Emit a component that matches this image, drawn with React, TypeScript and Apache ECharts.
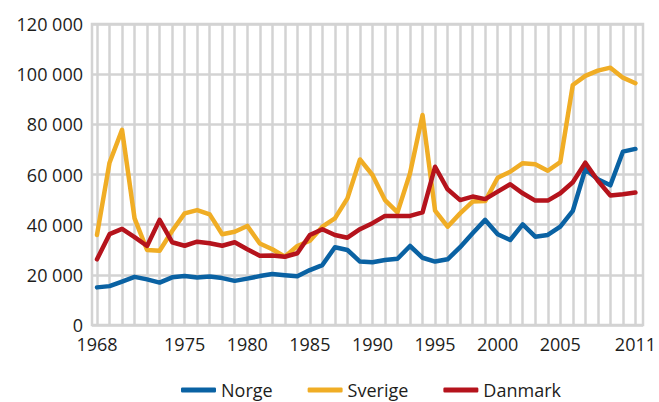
import React, { useEffect, useRef } from "react";
import * as echarts from "echarts";

const years = [
  "1968", "1969", "1970", "1971", "1972", "1973", "1974", "1975", "1976", "1977", "1978",
  "1979", "1980", "1981", "1982", "1983", "1984", "1985", "1986", "1987", "1988", "1989",
  "1990", "1991", "1992", "1993", "1994", "1995", "1996", "1997", "1998", "1999", "2000",
  "2001", "2002", "2003", "2004", "2005", "2006", "2007", "2008", "2009", "2010", "2011",
];

const labeledYears = ["1968", "1975", "1980", "1985", "1990", "1995", "2000", "2005", "2011"];

const norge = [
  15000, 15500, 17300, 19200, 18200, 16900, 19000, 19500, 18900, 19300, 18700, 17600, 18500, 19500, 20300,
  19800, 19400, 21900, 23900, 31000, 29900, 25300, 25000, 25900, 26400, 31500, 26800, 25300, 26200,
  31000, 36600, 41900, 36200, 33900, 40100, 35200, 35900, 39200, 45500, 62100, 58100, 55700, 69100, 70200,
];

const sverige = [
  35900, 64700, 77800, 42500, 29900, 29600, 37500, 44500, 45800, 44100, 36200, 37200, 39500, 32500, 30200,
  27200, 31500, 33600, 39200, 42500, 50500, 66000, 59800, 49800, 44900, 60500, 83700, 45600, 39200,
  44500, 49200, 49400, 58700, 61100, 64500, 64100, 61500, 64900, 95700, 99300, 101400, 102600, 98600, 96400,
];

const danmark = [
  26200, 36200, 38300, 35000, 31500, 41900, 33000, 31600, 33200, 32600, 31600, 33000, 30200, 27600, 27700,
  27200, 28600, 35900, 38200, 35900, 34800, 38200, 40600, 43500, 43500, 43500, 44900, 63100, 54100,
  49800, 51200, 50200, 53200, 56100, 52500, 49600, 49600, 52500, 56900, 64700, 57500, 51600, 52100, 52800,
];

const yTicks = { min: 0, max: 120000, interval: 20000 };

const GRID_COLOR = "#d3d3d3";
const TEXT_COLOR = "#1d1d1b";
const FONT = "'Open Sans', sans-serif";

export default function App() {
  const ref = useRef<HTMLDivElement>(null);

  useEffect(() => {
    document.body.style.margin = "0";
    if (!ref.current) return;
    const chart = echarts.init(ref.current, null, { renderer: "svg" });
    const fmt = (v: number) =>
      String(v).replace(/\B(?=(\d{3})+(?!\d))/g, " ");
    const mkLine = (name: string, data: number[], color: string) => ({
      name,
      type: "line",
      data,
      xAxisIndex: 1,
      yAxisIndex: 1,
      showSymbol: false,
      symbol: "none",
      color,
      lineStyle: { color, width: 4.5, join: "round", cap: "round" },
      itemStyle: { color },
    });
    chart.setOption({
      animation: false,
      textStyle: { fontFamily: FONT },
      grid: [
        {
          left: 92,
          right: 16,
          top: 24,
          bottom: 77,
          show: true,
          borderColor: GRID_COLOR,
          borderWidth: 2.5,
          backgroundColor: "transparent",
        },
        { left: 97, right: 20, top: 24, bottom: 77 },
      ],
      xAxis: [
        { type: "value", gridIndex: 0, min: 0, max: 1, show: false },
        {
          type: "category",
          gridIndex: 1,
          data: years,
          boundaryGap: false,
          axisLine: { show: false },
          axisTick: { show: false },
          splitLine: {
            show: true,
            interval: 0,
            lineStyle: { color: GRID_COLOR, width: 2.5 },
          },
          axisLabel: {
            interval: (_i: number, v: string) => labeledYears.includes(v),
            color: TEXT_COLOR,
            fontSize: 18,
            fontFamily: FONT,
            margin: 10,
          },
        },
      ],
      yAxis: [
        {
          type: "value",
          gridIndex: 0,
          min: yTicks.min,
          max: yTicks.max,
          interval: yTicks.interval,
          axisLine: { show: false },
          axisTick: { show: false },
          splitLine: { show: true, lineStyle: { color: GRID_COLOR, width: 2.5 } },
          axisLabel: {
            color: TEXT_COLOR,
            fontSize: 18,
            fontFamily: FONT,
            margin: 9,
            formatter: fmt,
          },
        },
        {
          type: "value",
          gridIndex: 1,
          min: yTicks.min,
          max: yTicks.max,
          show: false,
        },
      ],
      legend: {
        left: 176,
        top: 376,
        icon: "roundRect",
        itemWidth: 35,
        itemHeight: 5,
        itemGap: 35,
        textStyle: { color: TEXT_COLOR, fontSize: 18, fontFamily: FONT },
        data: ["Norge", "Sverige", "Danmark"],
      },
      series: [
        mkLine("Norge", norge, "#0a62a3"),
        mkLine("Sverige", sverige, "#f0ad25"),
        mkLine("Danmark", danmark, "#b5131c"),
      ],
    });
    return () => chart.dispose();
  }, []);

  return <div ref={ref} style={{ width: 659, height: 402 }} />;
}
